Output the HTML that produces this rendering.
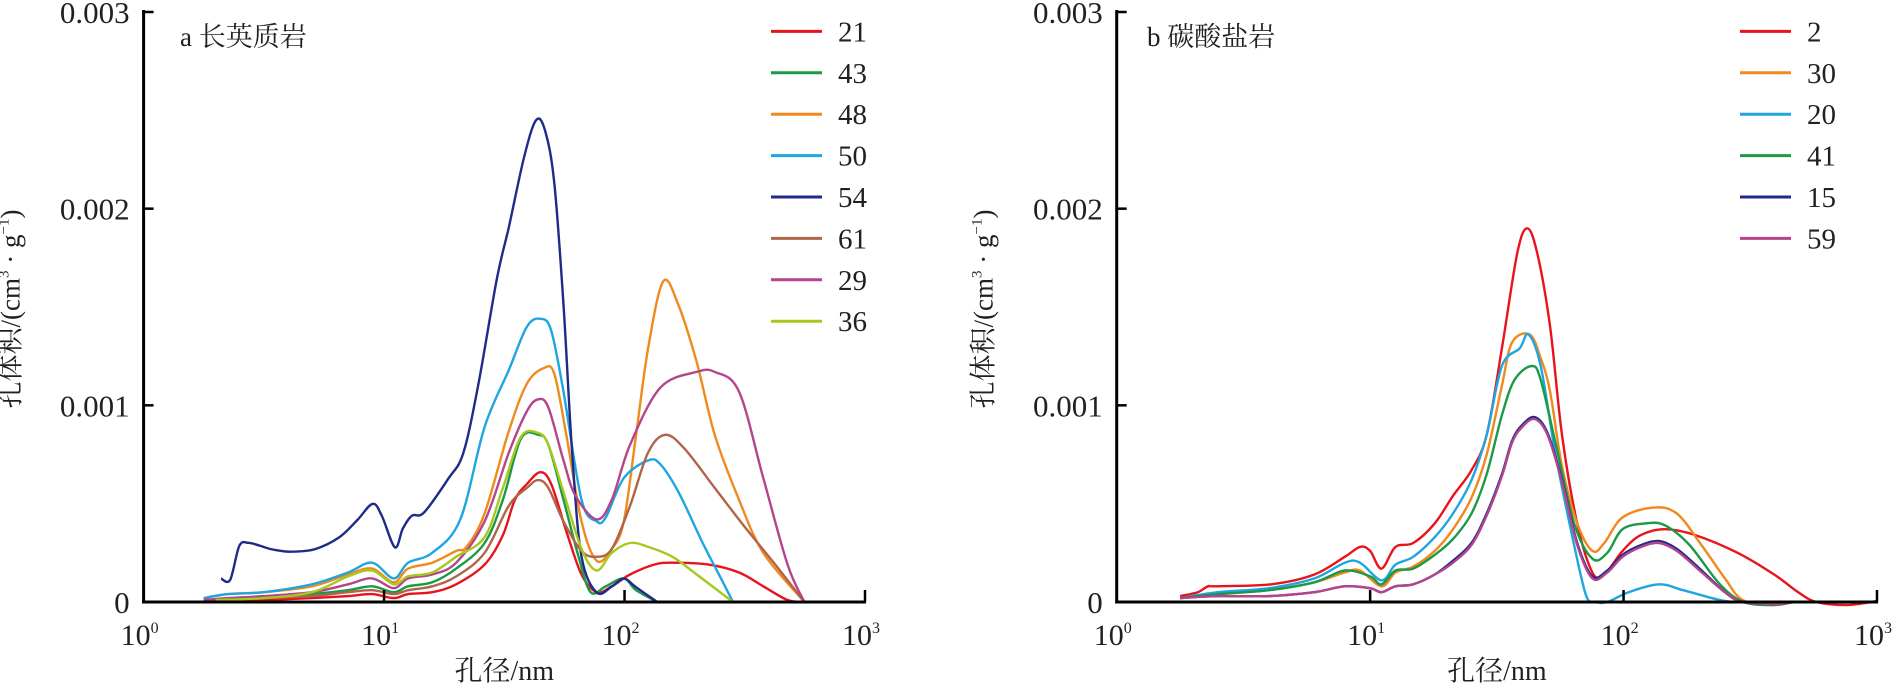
<!DOCTYPE html>
<html><head><meta charset="utf-8"><style>
html,body{margin:0;padding:0;background:#fff;}
svg{display:block;font-family:"Liberation Serif","Noto Serif CJK SC",serif;}
</style></head><body>
<svg id="chart" width="1900" height="685" viewBox="0 0 1900 685" xmlns="http://www.w3.org/2000/svg"></svg>
<script>
// ---- Panel a data (x = log10 pore diameter nm, y = pore volume x0.001 cm3/g)
const a21x=[0.30,0.5,0.7,0.85,0.95,1.04,1.1,1.2,1.3,1.418,1.494,1.544,1.594,1.650,1.695,1.758,1.821,1.884,1.947,2.023,2.123,2.199,2.350,2.476,2.577,2.678,2.753];
const a21y=[0.0,0.01,0.02,0.03,0.04,0.02,0.04,0.05,0.09,0.19,0.34,0.52,0.60,0.66,0.60,0.36,0.14,0.05,0.08,0.14,0.19,0.20,0.19,0.15,0.08,0.01,0];
const a43x=[0.28,0.5,0.7,0.85,0.95,1.04,1.1,1.2,1.3,1.418,1.494,1.569,1.640,1.683,1.746,1.809,1.859,1.922,1.997,2.048,2.136];
const a43y=[0.01,0.02,0.04,0.06,0.08,0.05,0.08,0.10,0.17,0.30,0.52,0.83,0.85,0.80,0.52,0.23,0.05,0.08,0.12,0.06,0];
const a48x=[0.25,0.35,0.5,0.7,0.85,0.95,1.04,1.1,1.2,1.3,1.343,1.418,1.519,1.594,1.665,1.708,1.758,1.821,1.884,1.947,1.997,2.048,2.098,2.161,2.224,2.300,2.375,2.476,2.577,2.748];
const a48y=[0.02,0.04,0.05,0.08,0.14,0.17,0.10,0.17,0.20,0.26,0.28,0.45,0.87,1.11,1.19,1.16,0.85,0.41,0.21,0.27,0.41,0.85,1.29,1.63,1.51,1.22,0.85,0.52,0.25,0];
const a50x=[0.25,0.35,0.5,0.7,0.85,0.95,1.04,1.1,1.2,1.317,1.418,1.519,1.594,1.652,1.695,1.746,1.821,1.884,1.922,1.997,2.098,2.149,2.224,2.325,2.401,2.451];
const a50y=[0.02,0.04,0.05,0.09,0.15,0.20,0.12,0.20,0.25,0.42,0.89,1.18,1.40,1.44,1.38,1.07,0.52,0.41,0.43,0.63,0.72,0.70,0.56,0.30,0.12,0];
const a54x=[0.322,0.360,0.398,0.436,0.486,0.537,0.612,0.713,0.814,0.889,0.952,0.990,1.045,1.078,1.116,1.166,1.267,1.330,1.393,1.469,1.519,1.582,1.632,1.670,1.708,1.746,1.783,1.821,1.884,1.947,1.997,2.048,2.136];
const a54y=[0.119,0.113,0.285,0.301,0.285,0.267,0.256,0.269,0.329,0.417,0.499,0.440,0.278,0.373,0.439,0.455,0.627,0.759,1.113,1.642,1.907,2.260,2.450,2.395,2.130,1.512,0.740,0.232,0.049,0.079,0.119,0.075,0];
const a61x=[0.25,0.5,0.7,0.85,0.95,1.04,1.1,1.2,1.3,1.418,1.519,1.594,1.640,1.683,1.746,1.821,1.884,1.947,2.023,2.098,2.169,2.249,2.375,2.501,2.627,2.748];
const a61y=[0.01,0.02,0.03,0.05,0.06,0.04,0.06,0.08,0.13,0.25,0.49,0.58,0.62,0.58,0.41,0.26,0.23,0.27,0.49,0.76,0.85,0.78,0.58,0.38,0.19,0];
const a29x=[0.25,0.35,0.5,0.7,0.85,0.95,1.04,1.1,1.2,1.3,1.418,1.519,1.594,1.640,1.683,1.746,1.796,1.884,1.947,2.023,2.149,2.300,2.375,2.476,2.577,2.678,2.748];
const a29y=[0.01,0.02,0.03,0.05,0.09,0.12,0.07,0.12,0.14,0.20,0.41,0.76,0.97,1.03,0.99,0.72,0.54,0.42,0.52,0.80,1.09,1.17,1.17,1.07,0.63,0.19,0];
const a36x=[0.30,0.5,0.7,0.85,0.95,1.04,1.1,1.2,1.3,1.418,1.494,1.569,1.640,1.683,1.746,1.821,1.884,1.947,2.023,2.098,2.199,2.300,2.451];
const a36y=[0.01,0.02,0.05,0.13,0.16,0.09,0.13,0.15,0.23,0.33,0.58,0.84,0.86,0.80,0.56,0.27,0.16,0.25,0.30,0.28,0.23,0.14,0];
// ---- Panel b data
const b2x=[0.25,0.32,0.36,0.39,0.61,0.78,0.90,0.96,1.0,1.045,1.10,1.17,1.255,1.327,1.40,1.46,1.52,1.58,1.62,1.66,1.71,1.757,1.817,1.877,1.924,1.996,2.068,2.163,2.283,2.45,2.594,2.689,2.761,2.88,3.0];
const b2y=[0.03,0.05,0.08,0.08,0.09,0.14,0.23,0.28,0.26,0.17,0.28,0.30,0.40,0.54,0.67,0.85,1.29,1.77,1.90,1.77,1.40,0.85,0.40,0.15,0.14,0.26,0.34,0.37,0.34,0.25,0.14,0.05,0,-0.015,0.005];
const b30x=[0.25,0.4,0.6,0.78,0.9,0.96,1.045,1.10,1.17,1.255,1.327,1.40,1.46,1.52,1.56,1.63,1.673,1.71,1.757,1.817,1.877,1.924,1.996,2.116,2.21,2.307,2.40,2.47,2.59,2.67];
const b30y=[0.02,0.04,0.06,0.10,0.15,0.16,0.08,0.15,0.18,0.26,0.37,0.53,0.75,1.10,1.32,1.36,1.24,1.07,0.69,0.40,0.26,0.30,0.43,0.48,0.45,0.29,0.12,0.01,-0.015,0];
const b20x=[0.25,0.4,0.6,0.78,0.9,0.96,1.045,1.10,1.17,1.255,1.327,1.40,1.46,1.52,1.59,1.625,1.673,1.733,1.805,1.853,1.89,1.936,2.02,2.14,2.235,2.38,2.45];
const b20y=[0.02,0.05,0.07,0.12,0.20,0.20,0.11,0.19,0.23,0.33,0.45,0.62,0.85,1.20,1.29,1.36,1.20,0.74,0.29,0.03,0,0,0.05,0.09,0.06,0.01,0];
const b41x=[0.25,0.4,0.6,0.78,0.9,1.0,1.045,1.10,1.17,1.255,1.327,1.40,1.46,1.52,1.57,1.638,1.673,1.733,1.805,1.877,1.936,1.996,2.09,2.163,2.26,2.38,2.474,2.59,2.67];
const b41y=[0.02,0.04,0.06,0.10,0.16,0.13,0.09,0.16,0.17,0.24,0.32,0.45,0.65,0.95,1.13,1.20,1.13,0.80,0.40,0.22,0.25,0.37,0.40,0.39,0.29,0.09,0,-0.015,0];
const b15x=[0.25,0.4,0.6,0.78,0.9,1.0,1.045,1.10,1.17,1.255,1.327,1.40,1.46,1.52,1.56,1.60,1.65,1.70,1.757,1.817,1.877,1.936,1.996,2.07,2.14,2.21,2.3,2.4,2.47,2.6,2.67];
const b15y=[0.02,0.03,0.03,0.05,0.08,0.07,0.05,0.08,0.09,0.14,0.21,0.30,0.45,0.65,0.82,0.90,0.94,0.86,0.62,0.30,0.13,0.16,0.24,0.29,0.31,0.27,0.17,0.05,0,-0.01,0];
const b59x=b15x.slice();
const b59y=[0.02,0.03,0.03,0.05,0.08,0.07,0.05,0.08,0.09,0.14,0.20,0.29,0.44,0.64,0.81,0.89,0.93,0.85,0.61,0.29,0.12,0.15,0.23,0.28,0.30,0.26,0.16,0.05,0,-0.01,0];
const yTickValues=[0,0.001,0.002,0.003];
const yTickLabels=["0","0.001","0.002","0.003"];
const xDecades=[0,1,2,3];

const NS="http://www.w3.org/2000/svg";
const svg=document.getElementById('chart');
function el(tag,attrs,parent){const e=document.createElementNS(NS,tag);for(const k in attrs)e.setAttribute(k,attrs[k]);(parent||svg).appendChild(e);return e;}

const panels=[
 {id:'a',x0:143.6,x3:865,title:'a 长英质岩',tx:180,legX:771,
  series:[['21',a21x,a21y,'#e8141c'],['43',a43x,a43y,'#1a9a48'],['48',a48x,a48y,'#f08a1c'],['50',a50x,a50y,'#1ea6e0'],['54',a54x,a54y,'#1e2b87'],['61',a61x,a61y,'#b0654a'],['29',a29x,a29y,'#b4448c'],['36',a36x,a36y,'#a8c81e']]},
 {id:'b',x0:1116.7,x3:1877,title:'b 碳酸盐岩',tx:1147,legX:1740,
  series:[['2',b2x,b2y,'#e8141c'],['30',b30x,b30y,'#f08a1c'],['20',b20x,b20y,'#1ea6e0'],['41',b41x,b41y,'#1a9a48'],['15',b15x,b15y,'#1e2b87'],['59',b59x,b59y,'#b4448c']]}
];
const Y0=602, YPER=196.67; // px per 0.001
function yScale(v){return Y0 - v*1000*YPER;} // v in cm3/g
function smoothPath(pts){
 let d='M'+pts[0][0].toFixed(1)+','+pts[0][1].toFixed(1);
 for(let i=0;i<pts.length-1;i++){
  const p0=pts[Math.max(0,i-1)],p1=pts[i],p2=pts[i+1],p3=pts[Math.min(pts.length-1,i+2)];
  const c1x=p1[0]+(p2[0]-p0[0])/6,c1y=p1[1]+(p2[1]-p0[1])/6;
  const c2x=p2[0]-(p3[0]-p1[0])/6,c2y=p2[1]-(p3[1]-p1[1])/6;
  d+=' C'+c1x.toFixed(1)+','+c1y.toFixed(1)+' '+c2x.toFixed(1)+','+c2y.toFixed(1)+' '+p2[0].toFixed(1)+','+p2[1].toFixed(1);
 }
 return d;
}
panels.forEach(p=>{
 const xs=l=>p.x0+(p.x3-p.x0)*l/3;
 const g=el('g',{});
 
 
 // series
 p.series.forEach(s=>{
  const pts=s[1].map((lx,i)=>[xs(lx),yScale(s[2][i]/1000)]);
  const path=el('path',{d:smoothPath(pts),fill:'none',stroke:s[3],'stroke-width':2.4,'stroke-linejoin':'round'},g);
  
  
 });
 // axes
 const ya=el('line',{x1:p.x0,y1:10,x2:p.x0,y2:Y0+1.5,stroke:'#000','stroke-width':3},g);
 
 
 const xa=el('line',{x1:p.x0-1.5,y1:Y0,x2:p.x3+1,y2:Y0,stroke:'#000','stroke-width':3},g);
 
 
 yTickValues.forEach((v,i)=>{
  const y=yScale(v);
  if(v>0){const t=el('line',{x1:p.x0,y1:y,x2:p.x0+10,y2:y,stroke:'#000','stroke-width':2.5},g);
   
   }
  const tl=el('text',{x:p.x0-14,y:y+11,'text-anchor':'end','font-size':31,fill:'#231f20'},g);
  tl.textContent=yTickLabels[i];
  
  
 });
 xDecades.forEach(d=>{
  const x=xs(d);
  if(d>0){const t=el('line',{x1:x,y1:Y0,x2:x,y2:Y0-12,stroke:'#000','stroke-width':2.5},g);
   
   }
  const tl=el('text',{x:x-4,y:645,'text-anchor':'middle','font-size':30,fill:'#231f20'},g);
  
  
  tl.appendChild(document.createTextNode('10'));
  const sp=el('tspan',{dy:-12,'font-size':16},tl);sp.textContent=String(d);
 });
 const xt=el('text',{x:(p.x0+p.x3)/2,y:680,'text-anchor':'middle','font-size':28,fill:'#231f20'},g);
 xt.textContent='孔径/nm';
 
 
 const ytx=p.x0-124;
 const yt=el('text',{x:0,y:0,'text-anchor':'middle','font-size':27,fill:'#231f20',transform:'translate('+(ytx)+',309) rotate(-90)'},g);
 
 
 yt.appendChild(document.createTextNode('孔体积/(cm'));
 let s1=el('tspan',{dy:-11,'font-size':15},yt);s1.textContent='3';
 let s2=el('tspan',{dy:11},yt);s2.textContent=' · g';
 let s3=el('tspan',{dy:-11,'font-size':15},yt);s3.textContent='−1';
 let s4=el('tspan',{dy:11},yt);s4.textContent=')';
 const tt=el('text',{x:p.tx,y:46,'font-size':27,fill:'#231f20'},g);
 tt.textContent=p.title;
 
 
 // legend
 p.series.forEach((s,i)=>{
  const y=31.4+i*41.4;
  const lg=el('g',{},g);
  
  
  el('line',{x1:p.legX,y1:y,x2:p.legX+51,y2:y,stroke:s[3],'stroke-width':3},lg);
  const lt=el('text',{x:p.legX+67,y:y+10,'font-size':29,fill:'#231f20'},lg);
  lt.textContent=s[0];
 });
});
</script>
</body></html>
